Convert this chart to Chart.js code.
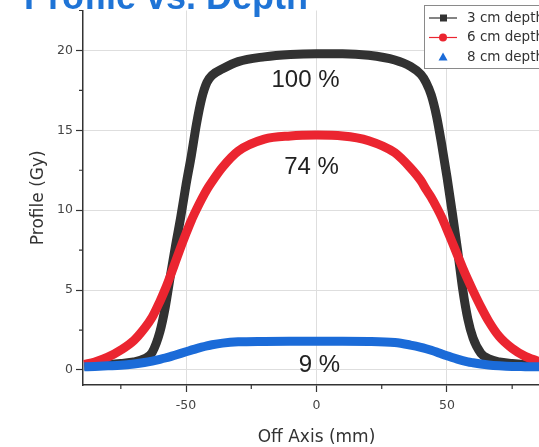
<!DOCTYPE html>
<html>
<head>
<meta charset="utf-8">
<script src="https://cdn.jsdelivr.net/npm/chart.js@4/dist/chart.umd.min.js"></script>
<style>
  html, body { margin: 0; padding: 0; background: #fff; overflow: hidden; }
  #wrap { position: absolute; left: 0; top: 0; width: 556px; height: 447px; }
</style>
</head>
<body>
<div id="wrap"><canvas id="graph"></canvas></div>
<script>
// off axis positions (mm), shared by all three profiles
const offAxis = [-89, -85, -80, -75, -70, -66, -63, -60, -58, -56, -54, -52, -50, -48, -46, -44, -42, -40, -36, -30, -20, -10,
  0, 10, 20, 30, 36, 40, 42, 44, 46, 48, 50, 52, 54, 56, 58, 60, 63, 66, 70, 75, 80, 85, 89];

// dose (Gy)
const depth3cm = [0.25, 0.28, 0.33, 0.4, 0.5, 0.7, 1.1, 2.4, 3.9, 5.9, 7.8, 9.6, 11.6, 13.4, 15.4, 17.0, 18.0, 18.45, 18.85, 19.3, 19.6, 19.75,
  19.8, 19.8, 19.7, 19.4, 19.0, 18.5, 18.0, 17.2, 15.9, 14.1, 12.1, 9.9, 7.6, 5.1, 3.2, 2.0, 1.05, 0.7, 0.5, 0.4, 0.33, 0.28, 0.25];
const depth6cm = [0.35, 0.5, 0.8, 1.25, 1.85, 2.6, 3.3, 4.3, 5.05, 5.9, 6.8, 7.7, 8.55, 9.35, 10.05, 10.7, 11.3, 11.8, 12.7, 13.7, 14.45, 14.65,
  14.7, 14.65, 14.35, 13.6, 12.65, 11.85, 11.3, 10.8, 10.2, 9.55, 8.8, 8.0, 7.2, 6.4, 5.65, 4.95, 3.95, 3.05, 2.1, 1.35, 0.85, 0.55, 0.4];
const depth8cm = [0.2, 0.22, 0.26, 0.3, 0.38, 0.47, 0.56, 0.67, 0.75, 0.84, 0.94, 1.04, 1.14, 1.24, 1.34, 1.43, 1.51, 1.58, 1.68, 1.76, 1.79, 1.8,
  1.8, 1.8, 1.79, 1.72, 1.56, 1.42, 1.33, 1.23, 1.12, 1.0, 0.89, 0.78, 0.68, 0.59, 0.51, 0.45, 0.37, 0.31, 0.26, 0.22, 0.21, 0.2, 0.2];

const seriesNames = ['3 cm depth', '6 cm depth', '8 cm depth'];
const xTicks = [-50, 0, 50];
const xMinorTicks = [-75, -25, 25, 75];
const yTicks = [0, 5, 10, 15, 20];
const yMinorTicks = [2.5, 7.5, 12.5, 17.5, 22.5];

// percent of the 3 cm maximum, written inside each curve
const pctLabels = ['100 %', '74 %', '9 %'];
const pctX = [-4.2, -1.9, 1.1];
const pctY = [18.1, 12.7, 0.3];

const FONT = '"Liberation Sans", Arial, sans-serif';
const WIDE = '"DejaVu Sans", sans-serif';

const points = (ys) => offAxis.map((x, i) => ({ x: x, y: ys[i] }));

const extras = {
  id: 'extras',
  afterDraw(chart) {
    const ctx = chart.ctx;
    const xs = chart.scales.x, ys = chart.scales.y;
    const area = chart.chartArea;
    ctx.save();

    // minor ticks
    ctx.strokeStyle = '#333';
    ctx.lineWidth = 1.2;
    ctx.beginPath();
    xMinorTicks.forEach(v => {
      const px = xs.getPixelForValue(v);
      ctx.moveTo(px, area.bottom);
      ctx.lineTo(px, area.bottom + 4);
    });
    yMinorTicks.forEach(v => {
      const py = ys.getPixelForValue(v);
      ctx.moveTo(area.left, py);
      ctx.lineTo(area.left - 4, py);
    });
    ctx.stroke();

    // percentage labels
    ctx.fillStyle = '#222';
    ctx.font = '24px ' + FONT;
    ctx.textAlign = 'center';
    ctx.textBaseline = 'middle';
    pctLabels.forEach((t, i) => {
      ctx.fillText(t, xs.getPixelForValue(pctX[i]), ys.getPixelForValue(pctY[i]));
    });

    // title, partly above the top edge
    ctx.fillStyle = '#1f74d6';
    ctx.font = 'bold 36px ' + FONT;
    ctx.textAlign = 'left';
    ctx.textBaseline = 'alphabetic';
    ctx.fillText('Profile vs. Depth', 24, 9);

    // legend box
    const lx = 424, ly = 5, lw = 140, lh = 63;
    ctx.fillStyle = '#fff';
    ctx.fillRect(lx, ly, lw, lh);
    ctx.strokeStyle = '#8a8a8a';
    ctx.lineWidth = 1;
    ctx.strokeRect(lx + 0.5, ly + 0.5, lw, lh);
    ctx.font = '13.5px ' + WIDE;
    ctx.textBaseline = 'middle';
    chart.data.datasets.forEach((ds, i) => {
      const cy = 18 + i * 19.5;
      ctx.strokeStyle = ds.borderColor;
      ctx.lineWidth = 1.2;
      if (i < 2) {
        ctx.beginPath();
        ctx.moveTo(429, cy);
        ctx.lineTo(457, cy);
        ctx.stroke();
      }
      ctx.fillStyle = ds.borderColor;
      ctx.beginPath();
      if (i === 0) {
        ctx.rect(440, cy - 3.5, 7, 7);
      } else if (i === 1) {
        ctx.arc(443, cy, 4, 0, Math.PI * 2);
      } else {
        ctx.moveTo(443, cy - 4.5);
        ctx.lineTo(447.5, cy + 3.5);
        ctx.lineTo(438.5, cy + 3.5);
        ctx.closePath();
      }
      ctx.fill();
      ctx.fillStyle = '#333';
      ctx.fillText(ds.label, 467, cy);
    });
    ctx.restore();
  }
};

new Chart(document.getElementById('graph'), {
  type: 'line',
  data: {
    datasets: [
      { label: seriesNames[0], data: points(depth3cm), borderColor: '#323232', order: 3 },
      { label: seriesNames[1], data: points(depth6cm), borderColor: '#eb2530', order: 2 },
      { label: seriesNames[2], data: points(depth8cm), borderColor: '#1b6bd8', order: 1 }
    ]
  },
  options: {
    responsive: true,
    maintainAspectRatio: false,
    animation: false,
    layout: { padding: { top: 10, right: 6, left: 0, bottom: 0 } },
    elements: {
      line: { borderWidth: 9, cubicInterpolationMode: 'monotone', fill: false },
      point: { radius: 0, hoverRadius: 0 }
    },
    plugins: {
      legend: { display: false },
      tooltip: { enabled: false },
      title: { display: false }
    },
    scales: {
      x: {
        type: 'linear',
        min: -89.5,
        max: 89.5,
        afterBuildTicks: (s) => { s.ticks = xTicks.map(v => ({ value: v })); },
        afterFit: (s) => { s.height = 62; },
        border: { display: true, color: '#333', width: 1.5 },
        grid: { color: '#dedede', lineWidth: 1, tickColor: '#333', tickLength: 7, tickWidth: 1.2 },
        ticks: { color: '#444', padding: 6, font: { family: WIDE, size: 12.5 }, maxRotation: 0 },
        title: { display: true, text: 'Off Axis (mm)', color: '#333', padding: { top: 0, bottom: 0 }, font: { family: WIDE, size: 17, lineHeight: 1.05 } }
      },
      y: {
        min: -0.94,
        max: 22.5,
        afterBuildTicks: (s) => { s.ticks = yTicks.map(v => ({ value: v })); },
        afterFit: (s) => { s.width = 83; },
        border: { display: true, color: '#333', width: 1.5 },
        grid: { color: '#dedede', lineWidth: 1, tickColor: '#333', tickLength: 7, tickWidth: 1.2 },
        ticks: { color: '#444', padding: 3, font: { family: WIDE, size: 12.5 } },
        title: { display: true, text: 'Profile (Gy)', color: '#333', padding: { top: 30, bottom: 0 }, font: { family: WIDE, size: 17, lineHeight: 1.05 } }
      }
    }
  },
  plugins: [extras]
});
</script>
</body>
</html>
